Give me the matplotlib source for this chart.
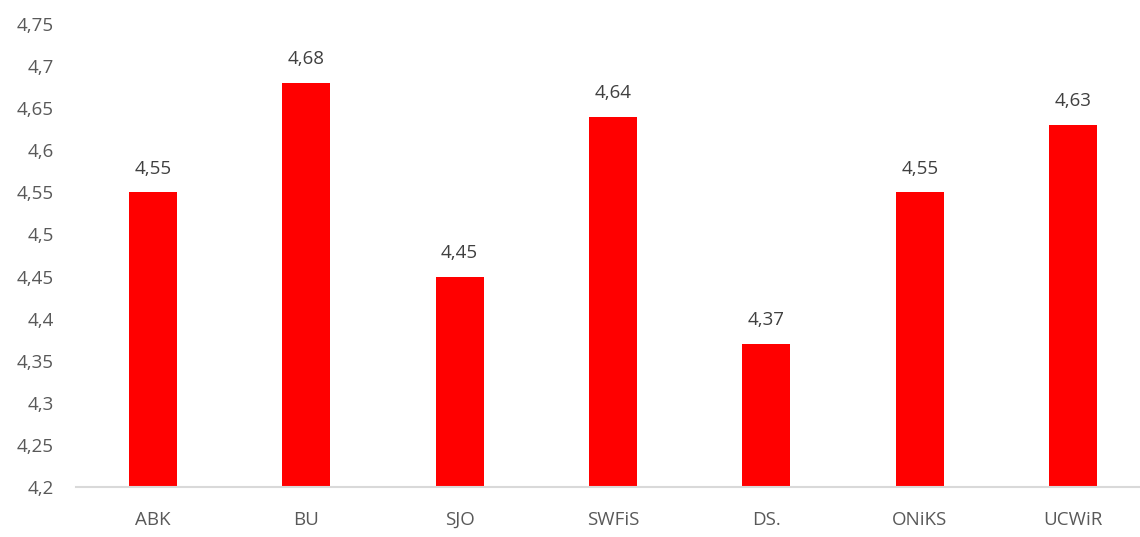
import matplotlib
matplotlib.use('Agg')
import matplotlib.pyplot as plt
from matplotlib.ticker import MultipleLocator, FuncFormatter

categories = ['ABK', 'BU', 'SJO', 'SWFiS', 'DS.', 'ONiKS', 'UCWiR']
values = [4.55, 4.68, 4.45, 4.64, 4.37, 4.55, 4.63]

plt.rcParams['font.family'] = ['Open Sans', 'DejaVu Sans']

fig = plt.figure(figsize=(11.4, 5.37), dpi=100)
# axis runs a little past the right edge, like the original crop
ax = fig.add_axes([76 / 1140, 50 / 537, 1074 / 1140, 463 / 537])

x = list(range(len(categories)))
ax.bar(x, [v - 4.2 for v in values], bottom=4.2, width=0.313, color='#ff0000')

for xi, v in zip(x, values):
    ax.annotate(f'{v:.2f}'.replace('.', ','), (xi, v), xytext=(0, 10.5),
                textcoords='offset points', ha='center', va='bottom',
                fontsize=13.5, color='#404040')

ax.set_xlim(-0.5, len(categories) - 0.5)
ax.set_ylim(4.2, 4.75)
ax.yaxis.set_major_locator(MultipleLocator(0.05))
ax.yaxis.set_major_formatter(FuncFormatter(lambda v, p: f'{v:g}'.replace('.', ',')))
ax.set_xticks(x)
ax.set_xticklabels(categories)

for s in ['top', 'right', 'left']:
    ax.spines[s].set_visible(False)
ax.spines['bottom'].set_color('#d9d9d9')
ax.spines['bottom'].set_linewidth(1.5)
ax.tick_params(axis='both', length=0, labelsize=13.5, labelcolor='#595959')
ax.tick_params(axis='x', pad=17)
ax.tick_params(axis='y', pad=16)

fig.savefig('out.png', dpi=100)
